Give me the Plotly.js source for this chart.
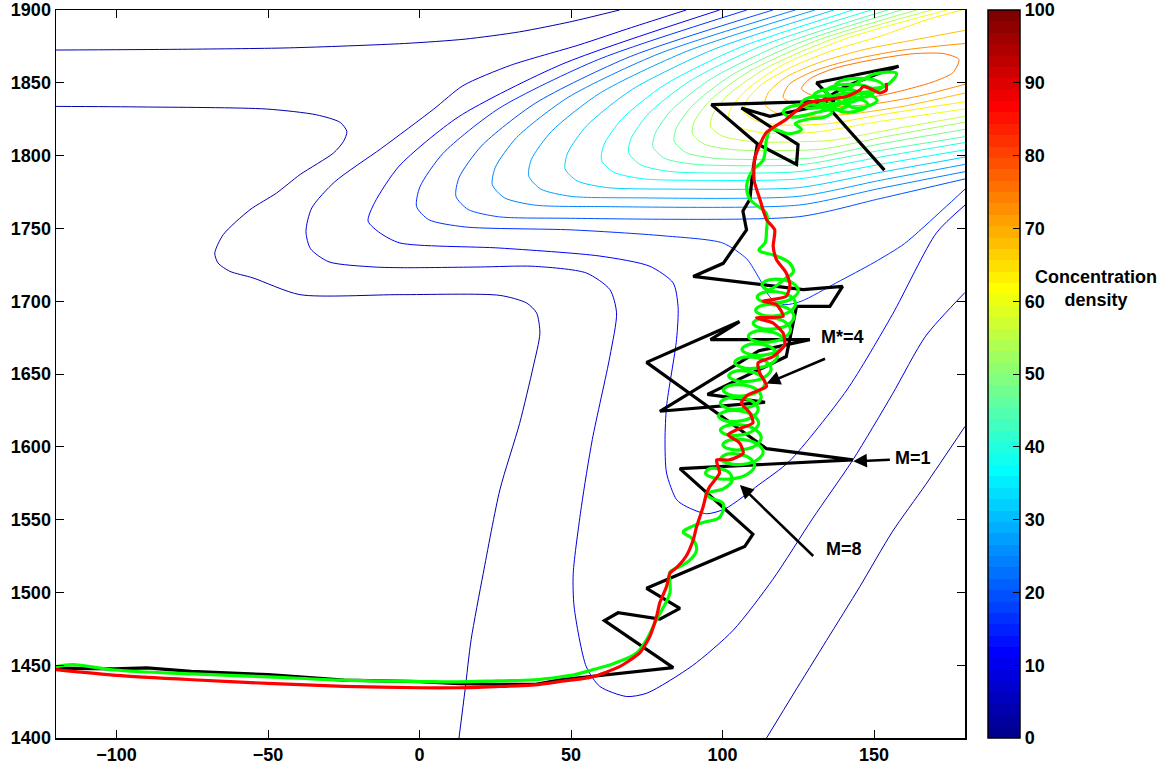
<!DOCTYPE html>
<html><head><meta charset="utf-8">
<script src="https://cdn.plot.ly/plotly-3.0.1.min.js"></script>
<style>html,body{margin:0;padding:0;background:#fff}#chart{width:1173px;height:770px}</style>
</head><body><div id="chart"></div>
<script>
// ---------- axis ticks ----------
const xTicks = [-100, -50, 0, 50, 100, 150];
const yTicks = [1400, 1450, 1500, 1550, 1600, 1650, 1700, 1750, 1800, 1850, 1900];
const cbTicks = [0, 10, 20, 30, 40, 50, 60, 70, 80, 90, 100];

// ---------- contour lines (level) ----------
const lvl04_top = [[-120,1872.5],[-80,1873],[-43,1874],[-5,1877],[15,1880],[33,1885],[50,1892],[66,1900]];
const lvl04_s = [[-120,1833.8],[-91.3,1833.4],[-50.6,1832],[-34,1828],[-26.2,1822.8],[-24,1816.6],[-25.1,1809.8],[-28.4,1801.8],[-39.5,1786.9],[-47.2,1774.3],[-56,1762.8],[-64.8,1745.7],[-67.6,1733],[-66.5,1726.2],[-62.6,1720.5],[-55,1716],[-39.5,1704.5],[-6.5,1704.5],[26.5,1704],[35.3,1698.8],[38.6,1692],[39.7,1678],[37.5,1655],[33,1616],[26.5,1570.5],[21,1513],[17,1467.5],[15,1433],[13,1400]];
const lvl04_se = [[114.5,1400],[123.3,1430],[134.3,1467],[145.3,1504],[156,1541.6],[167,1574],[180,1614]];
const lvl08 = [[88,1900],[70,1888],[52.6,1876],[30,1862],[14.3,1848],[4.7,1832],[-12.6,1805],[-28,1782],[-35.6,1764],[-37.5,1748],[-36,1736],[-29.9,1727],[-15,1723.5],[-5,1723],[20,1723.5],[37.4,1724],[55,1719.4],[62.8,1708],[65,1692],[62.8,1662],[57,1605],[53.4,1559],[50.7,1513],[51,1490],[55,1449],[59.5,1435.4],[68.3,1428.5],[75,1430.8],[90,1449.6],[103.5,1474],[116.6,1509],[129.8,1551],[143,1591],[156,1636],[167,1676],[180,1706]];
const lvl12 = [[99,1900],[47.25,1863],[12.75,1826.5],[-6.8,1792.7],[-14.85,1767.7],[-17,1755],[-13,1746.8],[-6.5,1740],[26.5,1736.5],[59.5,1731],[76,1724],[83.7,1712.5],[85.3,1696.4],[84.8,1673.6],[81.5,1627.8],[81,1605],[81.5,1582],[84.8,1563.7],[88,1559],[94.7,1554],[101,1557.6],[112,1574],[122,1590],[141,1639],[156,1690.7],[170.6,1747],[180,1766]];
const lvl16 = [[108,1900],[59,1866],[26.25,1832.5],[7.7,1801.5],[0.1,1778.5],[-1,1765],[3,1756],[15,1751],[50,1749],[80,1745],[100,1740],[108,1729],[112,1716],[116,1702],[120.5,1697.6],[126,1700],[137.6,1712.7],[150,1726.6],[160,1739.5],[172.7,1763],[180,1777]];
const lvl20 = [[116.6,1900],[69.5,1868],[38.2,1836],[20.4,1806.6],[13,1784.8],[12,1772],[16,1763],[26,1758],[47,1757],[125,1758],[152,1770.5],[180,1784]];
const lvl24 = [[124,1900],[79,1870],[49,1840],[32,1812.4],[25,1792],[24,1780],[28,1771],[38,1766],[59,1765],[125,1766],[152,1777.5],[180,1789]];
const lvl28 = [[130.5,1900],[88,1871.5],[59.6,1843],[43.6,1816.8],[36.9,1797.4],[36,1786],[40,1777],[50,1772],[71,1771],[125,1772],[152,1783],[180,1794]];
const lvl32 = [[136.8,1900],[96.8,1872.75],[70.2,1845.5],[55.1,1820.4],[48.9,1801.9],[48,1791],[52,1782.6],[62,1778],[83,1777],[125,1778],[152,1788.5],[180,1799]];
const lvl36 = [[143,1900],[105.65,1874.25],[80.75,1848.5],[66.6,1824.8],[60.8,1807.3],[60,1797],[64,1788.6],[74,1784],[95,1783],[125,1784],[152,1794],[180,1804]];
const lvl40 = [[149,1900],[113,1875.5],[89,1851],[75.4,1828.5],[69.8,1811.8],[69,1802],[73,1793.6],[83,1789],[104,1788],[125,1789],[152,1799],[180,1809]];
const lvl44 = [[154.5,1900],[119.6,1876.5],[96.4,1853],[83.2,1831.4],[77.8,1815.4],[77,1806],[81,1798],[91,1794],[112,1793],[127,1794],[152,1803.5],[180,1813]];
const lvl48 = [[159,1900],[125.25,1877.5],[102.75,1855],[90,1834.3],[84.75,1819],[84,1810],[88,1802],[98,1798],[119,1797.5],[130,1798.5],[152,1808],[180,1818]];
const lvl52 = [[164,1900],[130.7,1878.75],[108.5,1857.5],[95.9,1838],[90.7,1823.5],[90,1815],[94,1807.8],[104,1804],[122,1803.5],[133,1804.5],[155,1813.5],[180,1823]];
const lvl56 = [[169,1900],[136.2,1880],[114.3,1860],[101.8,1841.6],[96.7,1828],[96,1820],[100,1813.4],[110,1809.5],[125,1809.5],[136,1810.5],[157,1818.5],[180,1827]];
const lvl60 = [[174,1900],[141.6,1881],[120,1862.5],[107.8,1845],[102.7,1832.5],[102,1825],[106,1819],[114,1815.5],[130,1816],[152,1823.5],[180,1832]];
const lvl64 = [[179,1900],[167,1893],[152,1882],[136,1872],[123,1861],[113,1849],[108,1838],[107,1830],[111,1824],[120,1821],[135,1822],[155,1829],[180,1837]];
const lvl68 = [[180,1886],[162,1879],[147,1873],[132,1864],[121,1854],[115,1843],[114,1835],[118,1829],[127,1827],[142,1828.5],[160,1834],[180,1843]];
const lvl72 = [[180,1877],[170,1875],[158,1872],[143,1866],[130,1858],[122,1849],[120,1840],[124,1835],[133,1833.5],[148,1835],[165,1841],[180,1849]];
const lvl76 = [[126,1846],[129,1853],[137,1860],[150,1866],[163,1870],[173,1870],[178,1866],[176,1857],[170,1851],[160,1845],[150,1840.5],[138,1839.5],[130,1841],[126,1846]];

const contourLevels = [4, 4, 4, 8, 12, 16, 20, 24, 28, 32, 36, 40, 44, 48, 52, 56, 60, 64, 68, 72, 76];
const contourPaths = [lvl04_top, lvl04_s, lvl04_se, lvl08, lvl12, lvl16, lvl20, lvl24, lvl28, lvl32, lvl36, lvl40, lvl44, lvl48, lvl52, lvl56, lvl60, lvl64, lvl68, lvl72, lvl76];

// ---------- trajectories ----------
const blackPath = [[-120,1448],[-100.7,1447.5],[-90,1448.2],[-75.4,1445.8],[-50,1443.5],[-25,1439.7],[0,1438.7],[13,1437.4],[25.6,1436.9],[38.3,1436.9],[46.5,1440],[83.7,1448.3],[61,1480.6],[65.5,1486],[79.3,1481.7],[85.9,1489],[74.9,1502.8],[107.3,1531.5],[110,1540],[85.9,1585],[143,1591],[114.5,1598.7],[74.9,1658],[105.6,1686],[96,1673.6],[128.8,1673.6],[112,1666],[79.3,1624.4],[114,1630.6],[95,1636],[121,1662],[124.4,1696.4],[135.4,1696.4],[139.6,1710.2],[126.6,1708],[90.3,1717],[100.2,1726],[107.9,1749],[106.7,1762],[109,1770],[110,1790],[111.5,1808],[96.3,1835],[137,1837.5],[131,1850],[158.1,1861.4],[151,1856],[140,1847],[129.4,1833],[115.6,1827],[106.2,1832.7],[124.9,1807.5],[124.4,1794],[111.5,1808],[null,null],[135,1833],[153.4,1790]];

const greenPath = [[-120,1449],[-114.5,1450.4],[-100.7,1446.7],[-75,1444],[-50,1442],[-25,1439.7],[0,1438.8],[13,1438.6],[25.6,1439.3],[38,1440],[46.5,1442],[51,1443.4],[57.3,1447],[63.9,1451],[71.6,1458.4],[74.9,1467.5],[78.2,1481.3],[82.6,1499.6],[82.6,1514],[84.8,1516.6],[89,1521.8],[91.4,1529],[90.2,1536.5],[87,1541.5],[88.6,1544],[93.6,1548],[99,1551.5],[100.2,1561],[96,1565],
[94.5,1568],[100.2,1571.1],[103.1,1576.5],[102.3,1582],[98.8,1585],[95.2,1584.5],[94.4,1581.5],[97.3,1578.6],
[103,1578],[108.1,1581.1],[110.5,1586.5],[109.1,1592],[105,1595],[100.9,1594.5],[99.5,1591.5],[101.9,1588.6],
[107,1588],[111.5,1591.1],[113.4,1596.5],[111.4,1602],[106.75,1605],[102.1,1604.5],[100.1,1601.5],[102,1598.6],
[106.5,1598],[111,1601.1],[112.75,1606.5],[110.7,1612],[106,1615],[101.3,1614.5],[99.25,1611.5],[101,1608.6],
[105.5,1608],[110,1611],[111.9,1616.4],[109.9,1621.8],[105.25,1624.75],[100.6,1624.1],[98.6,1621.1],[100.5,1618.1],
[105,1617.5],[109.7,1620.4],[111.75,1625.6],[110,1630.9],[105.5,1633.75],[101,1633],[99.25,1629.9],[101.3,1626.7],
[106,1626],[110.7,1628.9],[112.75,1634.25],[111,1639.6],[106.5,1642.5],[102,1641.8],[100.25,1638.75],[102.3,1635.7],
[107,1635],[111.85,1638],[114,1643.5],[112.35,1649],[108,1652],[103.65,1651.5],[102,1648.5],[104.15,1645.6],
[109,1645],[113.85,1647.9],[116,1653.25],[114.35,1658.6],[110,1661.5],[105.65,1660.8],[104,1657.75],[106.15,1654.7],
[111,1654],[115.9,1656.9],[118.1,1662.25],[116.5,1667.6],[112.25,1670.5],[108,1669.8],[106.4,1666.75],[108.6,1663.7],
[113.5,1663],[118.35,1665.9],[120.5,1671.25],[118.85,1676.6],[114.5,1679.5],[110.15,1678.8],[108.5,1675.75],[110.65,1672.7],
[115.5,1672],[120.3,1674.9],[122.4,1680.25],[120.7,1685.6],[116.25,1688.5],[111.8,1687.8],[110.1,1684.75],[112.2,1681.7],
[117,1681],[121.7,1683.9],[123.6,1689.25],[121.8,1694.6],[117.25,1697.5],[112.7,1696.8],[110.9,1693.75],[112.8,1690.7],
[117.5,1690],[122.2,1692.9],[124.1,1698.25],[122.3,1703.6],[117.75,1706.5],[113.2,1705.8],[111.4,1702.75],[113.3,1699.7],
[118,1699],[122.85,1701.8],[125,1707],[123.35,1712.2],[119,1715],[114.65,1714.2],[113,1711],[115.15,1707.8],
[121,1716],[123.3,1720],[122.2,1726],[117.8,1731],[112,1735],[114,1740],[114.5,1749],[114.5,1760],[109,1770],[108,1780],[110,1790],[113.4,1797],[114.5,1811],[116,1818],[122,1815],[126,1818],[124,1822],
[128,1825],[133.7,1826.5],[136,1830],[133.7,1833.5],[128,1835],[122.3,1833.5],[120,1830],[122.3,1826.5],
[134,1831],[139.7,1832.5],[142,1836],[139.7,1839.5],[134,1841],[128.3,1839.5],[126,1836],[128.3,1832.5],
[138,1836],[143.7,1837.5],[146,1841],[143.7,1844.5],[138,1846],[132.3,1844.5],[130,1841],[132.3,1837.5],
[140,1830],[145.7,1831.5],[148,1835],[145.7,1838.5],[140,1840],[134.3,1838.5],[132,1835],[134.3,1831.5],
[142,1839],[147.7,1840.5],[150,1844],[147.7,1847.5],[142,1849],[136.3,1847.5],[134,1844],[136.3,1840.5],
[143,1833],[148.7,1834.5],[151,1838],[148.7,1841.5],[143,1843],[137.3,1841.5],[135,1838],[137.3,1834.5],
[145,1843],[150.7,1844.5],[153,1848],[150.7,1851.5],[145,1853],[139.3,1851.5],[137,1848],[139.3,1844.5],
[146,1852],[150,1856],[157.4,1856.5],[154,1848],[149,1846]];

const redPath = [[-120,1447],[-100,1443],[-75,1440],[-50,1437.5],[-25,1435.5],[0,1434.5],[13,1434.5],[25,1435.3],[38,1436.5],[47,1439],[57,1442],[66,1449],[72.7,1458.6],[76,1469.8],[78.2,1483.5],[79.3,1493],[81.5,1504],[82.6,1513],[85.3,1518],[88,1525],[90.3,1536],[91.4,1545],[93.6,1559],[94.7,1568],[95.8,1572.8],[99,1582],[98,1591],[102.3,1591],[106.8,1595.7],[105.6,1602.6],[101.8,1608.3],[104.6,1611.7],[110,1616.4],[109,1623.2],[106.2,1630],[108.4,1635.8],[114.5,1641.5],[112.3,1650.6],[111.7,1657.6],[116.7,1662],[120.5,1670],[120,1678],[116.7,1685],[111.2,1688.5],[120,1689.6],[117.8,1697.6],[113.4,1700],[121,1703.3],[122.2,1711.3],[121,1719.4],[117.8,1728.5],[116.7,1737.6],[117.2,1749],[114.5,1756],[112.3,1770],[110.4,1783],[110.5,1797],[112,1806],[114.5,1816],[121,1825],[127.7,1836],[134.3,1838.4],[141,1840.7],[145.3,1845],[146.4,1847.5],[149.7,1845],[151.9,1843],[154,1845],[154,1850]];

// ---------- annotations (label, text pos, arrow tail, arrow tip) ----------
const labelTexts = ["M*=4", "M=1", "M=8"];
const labelPos = [[139.7,1675.6],[162.9,1592.5],[140,1530]];
const arrowTail = [[134.3,1660.9],[155.7,1591.2],[130.4,1524]];
const arrowTip = [[114.5,1643.5],[143.1,1590],[105.7,1573.8]];

// ---------- MATLAB jet(64) colormap ----------
function jetRow(R){
  const u = j => (j < 1 || j > 47) ? 0 : (j <= 16 ? j/16 : (j <= 31 ? 1 : (48 - j)/16));
  const r = Math.round(255*u(R-24)), g = Math.round(255*u(R-8)), b = Math.round(255*u(R+8));
  return `rgb(${r},${g},${b})`;
}
function levelColor(L){ return jetRow(Math.min(64, Math.floor(L/100*64) + 1)); }
const jetScale = [];
for (let R = 1; R <= 64; R++){ const c = jetRow(R); jetScale.push([(R-1)/64, c]); jetScale.push([R/64, c]); }

const FONT = {family: 'Liberation Sans, Arial, sans-serif', size: 18, color: '#000', weight: 'bold'};
const traces = [];
contourPaths.forEach((pts, i) => {
  traces.push({type:'scatter', mode:'lines', x: pts.map(p=>p[0]), y: pts.map(p=>p[1]),
    line:{color: levelColor(contourLevels[i]), width:1, shape:'spline', smoothing:0.7},
    hoverinfo:'skip', showlegend:false});
});
traces.push({type:'scatter', mode:'lines', x: blackPath.map(p=>p[0]), y: blackPath.map(p=>p[1]),
  line:{color:'#000', width:3.2}, showlegend:false, connectgaps:false});
traces.push({type:'scatter', mode:'lines', x: greenPath.map(p=>p[0]), y: greenPath.map(p=>p[1]),
  line:{color:'#00ff00', width:3.2, shape:'spline', smoothing:1}, showlegend:false});
traces.push({type:'scatter', mode:'lines', x: redPath.map(p=>p[0]), y: redPath.map(p=>p[1]),
  line:{color:'#ff0000', width:3.2, shape:'spline', smoothing:0.6}, showlegend:false});
// colour scale (off-range dummy cell, only its colorbar is visible)
traces.push({type:'heatmap', z:[[0,100]], x:[1000,1001], y:[5000], zmin:0, zmax:100,
  colorscale: jetScale, showscale:true, hoverinfo:'skip',
  colorbar:{x:1.0253, xanchor:'left', xref:'paper', y:0.5, yanchor:'middle', len:1, lenmode:'fraction',
    thickness:32, thicknessmode:'pixels', xpad:0, ypad:0, outlinewidth:1.5, outlinecolor:'#000',
    tickvals: cbTicks, ticks:'inside', ticklen:7, tickcolor:'#000', tickwidth:1, tickfont: FONT}});

const annotations = [];
labelTexts.forEach((t, i) => {
  annotations.push({x: arrowTip[i][0], y: arrowTip[i][1], ax: arrowTail[i][0], ay: arrowTail[i][1],
    xref:'x', yref:'y', axref:'x', ayref:'y', text:'', showarrow:true, arrowhead:2, arrowsize:1.1,
    arrowwidth:2.5, arrowcolor:'#000', standoff:0, startstandoff:0});
  annotations.push({x: labelPos[i][0], y: labelPos[i][1], xref:'x', yref:'y', text: t,
    showarrow:false, font: FONT, xanchor:'center', yanchor:'middle'});
});
annotations.push({xref:'paper', yref:'paper', x:1.144, y:0.617, text:'Concentration<br>density',
  showarrow:false, font: FONT, align:'center', xanchor:'center', yanchor:'middle'});

const layout = {
  width:1173, height:770,
  margin:{l:56, r:208, t:10, b:32},
  paper_bgcolor:'#fff', plot_bgcolor:'#fff',
  showlegend:false,
  xaxis:{range:[-120,180], tickvals:xTicks, ticks:'inside', ticklen:8, tickwidth:1, tickcolor:'#000',
    showline:true, linecolor:'#000', linewidth:1.5, mirror:'ticks', showgrid:false, zeroline:false,
    tickfont: FONT, fixedrange:true},
  yaxis:{range:[1400,1900], tickvals:yTicks, ticks:'inside', ticklen:8, tickwidth:1, tickcolor:'#000',
    showline:true, linecolor:'#000', linewidth:1.5, mirror:'ticks', showgrid:false, zeroline:false,
    tickfont: FONT, fixedrange:true},
  annotations: annotations
};
Plotly.newPlot('chart', traces, layout, {displayModeBar:false, staticPlot:true});
</script></body></html>
